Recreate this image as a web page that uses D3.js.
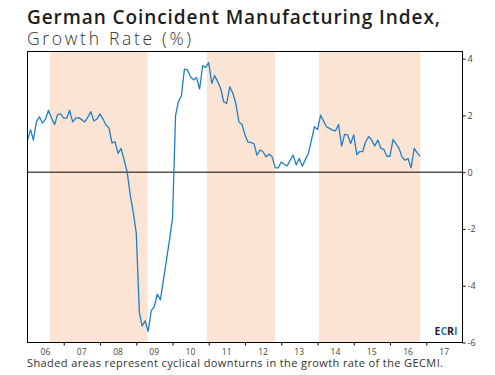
<html><head><meta charset="utf-8"><style>
  body { margin: 0; background: #fff; font-family: "Open Sans", sans-serif; }
  svg text { fill: #333; }
</style>
</head><body>
<div id="chart"></div>
<script src="https://cdnjs.cloudflare.com/ajax/libs/d3/7.8.5/d3.min.js"></script>
<script>
const width = 495;
const height = 375;
const margin = { top: 51.5, right: 32.5, bottom: 32.5, left: 27.5 };

// Monthly growth rate, Jan 2006 .. Nov 2016
const startMonth = new Date(2006, 0, 1);
const growth = [
  1.13, 1.5, 1.13, 1.77, 1.95, 1.73, 1.87, 2.18, 1.9, 1.68, 2.03, 2.05,
  1.9, 1.9, 2.18, 1.77, 1.9, 1.92, 1.85, 1.77, 1.94, 2.13, 1.8, 1.87,
  2.05, 1.87, 1.66, 1.56, 1.03, 1.07, 0.66, 0.84, 0.42, 0.01, -0.8, -1.4,
  -2.15, -4.93, -5.42, -5.24, -5.61, -4.88, -4.74, -4.3, -4.5, -3.81, -3.1, -2.4,
  -1.63, 2.0, 2.48, 2.69, 3.63, 3.6, 3.36, 3.25, 3.33, 2.93, 3.75, 3.69,
  3.86, 3.13, 3.4, 3.19, 2.95, 2.48, 2.42, 3.01, 2.78, 2.42, 1.77, 1.69,
  1.32, 1.05, 1.05, 1.0, 0.6, 0.78, 0.72, 0.54, 0.63, 0.54, 0.15, 0.15,
  0.36, 0.27, 0.22, 0.42, 0.6, 0.25, 0.48, 0.21, 0.45, 0.66, 1.13, 1.6,
  1.5, 2.01, 1.81, 1.6, 1.54, 1.48, 1.45, 1.68, 0.92, 1.33, 1.31, 1.01,
  1.31, 0.62, 0.72, 0.72, 1.07, 1.25, 1.13, 0.92, 1.13, 0.84, 0.8, 0.56,
  0.56, 1.15, 1.01, 0.84, 0.54, 0.42, 0.48, 0.15, 0.84, 0.68, 0.56
];

// cyclical downturns (shaded)
const downturns = [
  ["2006-08-15", "2009-04-25"],
  ["2010-12-12", "2012-10-30"],
  ["2014-01-15", "2016-11-01"]
];

const yearLabels = ["06", "07", "08", "09", "10", "11", "12", "13", "14", "15", "16", "17"];
const yTicks = [4, 2, 0, -2, -4, -6];

const parse = d3.timeParse("%Y-%m-%d");
const series = growth.map((v, i) => ({ date: d3.timeMonth.offset(startMonth, i), value: v }));

const svg = d3.select("#chart").append("svg")
  .attr("width", width)
  .attr("height", height);

const x = d3.scaleTime()
  .domain([new Date(2006, 0, 1), new Date(2018, 0, 1)])
  .range([margin.left, width - margin.right]);

const y = d3.scaleLinear()
  .domain([-6, 4.25])
  .range([height - margin.bottom, margin.top]);

// shaded areas
svg.append("g").selectAll("rect")
  .data(downturns)
  .enter().append("rect")
  .attr("x", d => x(parse(d[0])))
  .attr("width", d => x(parse(d[1])) - x(parse(d[0])))
  .attr("y", margin.top)
  .attr("height", height - margin.bottom - margin.top)
  .attr("fill", "#fce4d5");

// zero line
svg.append("line")
  .attr("x1", margin.left).attr("x2", width - margin.right)
  .attr("y1", y(0)).attr("y2", y(0))
  .attr("stroke", "#000").attr("stroke-width", 1);

// series line
const line = d3.line()
  .x(d => x(d.date))
  .y(d => y(d.value));

svg.append("path")
  .datum(series)
  .attr("d", line)
  .attr("fill", "none")
  .attr("stroke", "#1f7fc8")
  .attr("stroke-width", 1.3)
  .attr("stroke-linejoin", "round");

// frame
svg.append("rect")
  .attr("x", margin.left).attr("y", margin.top)
  .attr("width", width - margin.left - margin.right)
  .attr("height", height - margin.top - margin.bottom)
  .attr("fill", "none")
  .attr("stroke", "#000");

// x axis: ticks at year boundaries, labels mid-year
const yearStarts = d3.range(2007, 2018).map(yr => new Date(yr, 0, 1));
const xAxis = svg.append("g")
  .attr("transform", `translate(0,${height - margin.bottom})`)
  .call(d3.axisBottom(x).tickValues(yearStarts).tickSize(3).tickSizeOuter(0).tickFormat(""));
xAxis.select(".domain").remove();

svg.append("g").selectAll("text")
  .data(yearLabels)
  .enter().append("text")
  .attr("x", (d, i) => x(new Date(2006 + i, 6, 1)))
  .attr("y", height - margin.bottom + 12)
  .attr("text-anchor", "middle")
  .style("font-size", "8.5px")
  .style("fill", "#444")
  .text(d => d);

// y axis on right
const yAxis = svg.append("g")
  .attr("transform", `translate(${width - margin.right},0)`)
  .call(d3.axisRight(y).tickValues(yTicks).tickSize(3).tickPadding(2).tickFormat(d => d < 0 ? "-" + Math.abs(d) : d));
yAxis.select(".domain").remove();
yAxis.selectAll("text").style("font-size", "9px").style("fill", "#444").style("font-family", "Open Sans");

// titles
svg.append("text")
  .attr("x", 27).attr("y", 23.5)
  .attr("textLength", 413).attr("lengthAdjust", "spacing")
  .style("font-size", "19px").style("font-weight", 600).style("fill", "#1e1e1e")
  .text("German Coincident Manufacturing Index,");
svg.append("text")
  .attr("x", 27).attr("y", 44.5)
  .attr("textLength", 164).attr("lengthAdjust", "spacing")
  .style("font-size", "17.5px").style("font-weight", 300).style("fill", "#333")
  .text("Growth Rate (%)");

// ECRI mark
const logo = svg.append("text")
  .attr("x", width - margin.right - 5).attr("y", height - margin.bottom - 8)
  .attr("text-anchor", "end")
  .style("font-size", "10.5px").style("font-weight", 700);
[["E", "#222"], ["C", "#1f7fc8"], ["R", "#222"], ["I", "#1f7fc8"]].forEach(([ch, c]) => {
  logo.append("tspan").style("fill", c).text(ch);
});

// caption
svg.append("text")
  .attr("x", 27).attr("y", 367)
  .attr("textLength", 416).attr("lengthAdjust", "spacing")
  .style("font-size", "11px").style("fill", "#333")
  .text("Shaded areas represent cyclical downturns in the growth rate of the GECMI.");
</script>
</body></html>
